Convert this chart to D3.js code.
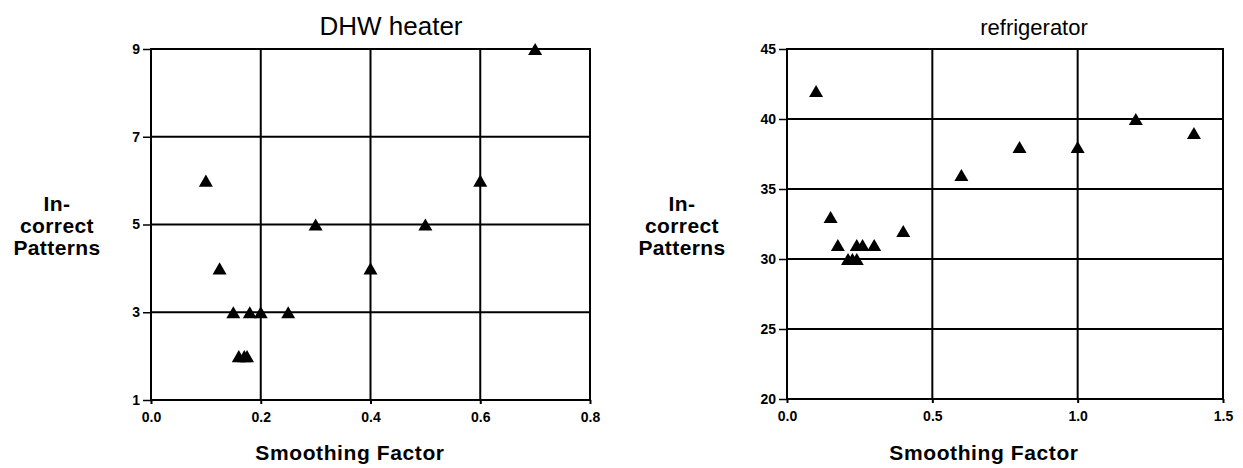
<!DOCTYPE html>
<html>
<head>
<meta charset="utf-8">
<script src="https://cdn.jsdelivr.net/npm/d3@7"></script>
<style>
  html, body { margin: 0; padding: 0; background: #fff; }
  svg { display: block; }
  svg .tick text {
    font-family: "Liberation Sans", Arial, sans-serif !important;
    font-weight: bold !important;
    font-size: 14px !important;
  }
</style>
</head>
<body>
<svg id="chart" width="1243" height="468"></svg>
<script>
// DHW heater: smoothing factor vs. incorrect patterns
const dhwSmoothing = [0.1, 0.125, 0.15, 0.16, 0.17, 0.175, 0.18, 0.2, 0.25, 0.3, 0.4, 0.5, 0.6, 0.7];
const dhwIncorrect = [6, 4, 3, 2, 2, 2, 3, 3, 3, 5, 4, 5, 6, 9];
const dhwXTicks = [0.0, 0.2, 0.4, 0.6, 0.8];
const dhwYTicks = [1, 3, 5, 7, 9];

// Refrigerator: smoothing factor vs. incorrect patterns
const fridgeSmoothing = [0.1, 0.15, 0.175, 0.21, 0.225, 0.24, 0.24, 0.26, 0.3, 0.4, 0.6, 0.8, 1.0, 1.2, 1.4];
const fridgeIncorrect = [42, 33, 31, 30, 30, 30, 31, 31, 31, 32, 36, 38, 38, 40, 39];
const fridgeXTicks = [0.0, 0.5, 1.0, 1.5];
const fridgeYTicks = [20, 25, 30, 35, 40, 45];

const xLabelText = "Smoothing Factor";
const yLabelLines = ["In-", "correct", "Patterns"];

const svg = d3.select("#chart");
const FONT = '"Liberation Sans", Arial, sans-serif';

function styleTickText(sel) {
  sel.attr("font-size", 14).attr("font-family", FONT).attr("font-weight", "bold");
  sel.selectAll(".tick text")
    .attr("font-size", 14)
    .attr("font-weight", "bold")
    .attr("fill", "#000");
}

function drawPanel(opt) {
  const g = svg.append("g");
  const x = d3.scaleLinear().domain(opt.xDomain).range([opt.left, opt.right]);
  const y = d3.scaleLinear().domain(opt.yDomain).range([opt.bottom, opt.top]);

  // grid lines
  g.append("g").selectAll("line").data(opt.xTicks).join("line")
    .attr("x1", d => x(d)).attr("x2", d => x(d))
    .attr("y1", opt.top).attr("y2", opt.bottom)
    .attr("stroke", "#000").attr("stroke-width", 2);
  g.append("g").selectAll("line").data(opt.yTicks).join("line")
    .attr("x1", opt.left).attr("x2", opt.right)
    .attr("y1", d => y(d)).attr("y2", d => y(d))
    .attr("stroke", "#000").attr("stroke-width", 2);

  // frame
  g.append("rect")
    .attr("x", opt.left).attr("y", opt.top)
    .attr("width", opt.right - opt.left).attr("height", opt.bottom - opt.top)
    .attr("fill", "none").attr("stroke", "#000").attr("stroke-width", 2);

  // axes
  const xAxis = g.append("g").attr("transform", `translate(0,${opt.bottom})`)
    .call(d3.axisBottom(x).tickValues(opt.xTicks).tickFormat(d3.format(".1f"))
      .tickSizeInner(4).tickSizeOuter(0).tickPadding(8));
  xAxis.select(".domain").remove();
  xAxis.selectAll(".tick line").attr("stroke", "#000").attr("stroke-width", 2);
  styleTickText(xAxis);

  const yAxis = g.append("g").attr("transform", `translate(${opt.left},0)`)
    .call(d3.axisLeft(y).tickValues(opt.yTicks).tickFormat(d3.format("d"))
      .tickSizeInner(8).tickSizeOuter(0).tickPadding(3));
  yAxis.select(".domain").remove();
  yAxis.selectAll(".tick line").attr("stroke", "#000").attr("stroke-width", 1.5);
  styleTickText(yAxis);

  // triangle markers, box-centred on the data value
  const triSize = 85;
  const r = Math.sqrt(triSize / (Math.sqrt(3) * 3));
  const tri = d3.symbol().type(d3.symbolTriangle).size(triSize);
  g.append("g").selectAll("path").data(opt.xs.map((v, i) => [v, opt.ys[i]])).join("path")
    .attr("d", tri)
    .attr("transform", d => `translate(${x(d[0])},${y(d[1]) + r * 0.5})`)
    .attr("fill", "#000");

  // title
  g.append("text")
    .attr("x", opt.titleX).attr("y", 35)
    .attr("text-anchor", "middle")
    .attr("font-family", FONT).attr("font-size", opt.titleSize)
    .text(opt.title);

  // x label
  g.append("text")
    .attr("x", opt.xLabelX).attr("y", 460)
    .attr("text-anchor", "middle")
    .attr("font-family", FONT).attr("font-weight", "bold").attr("font-size", 21)
    .attr("letter-spacing", 0.6)
    .text(xLabelText);

  // y label (three lines)
  const yl = g.append("text")
    .attr("text-anchor", "middle")
    .attr("font-family", FONT).attr("font-weight", "bold").attr("font-size", 21)
    .attr("letter-spacing", 0.4);
  yLabelLines.forEach((s, i) => {
    yl.append("tspan").attr("x", opt.yLabelX).attr("y", 211 + i * 22).text(s);
  });
}

drawPanel({
  xDomain: [0, 0.8], yDomain: [1, 9],
  left: 151, right: 590, top: 49, bottom: 400,
  xTicks: dhwXTicks, yTicks: dhwYTicks,
  xs: dhwSmoothing, ys: dhwIncorrect,
  title: "DHW heater", titleX: 391, titleSize: 26,
  xLabelX: 350, yLabelX: 57
});

drawPanel({
  xDomain: [0, 1.5], yDomain: [20, 45],
  left: 787, right: 1223, top: 49, bottom: 399,
  xTicks: fridgeXTicks, yTicks: fridgeYTicks,
  xs: fridgeSmoothing, ys: fridgeIncorrect,
  title: "refrigerator", titleX: 1034, titleSize: 22,
  xLabelX: 984, yLabelX: 682
});
</script>
</body>
</html>
